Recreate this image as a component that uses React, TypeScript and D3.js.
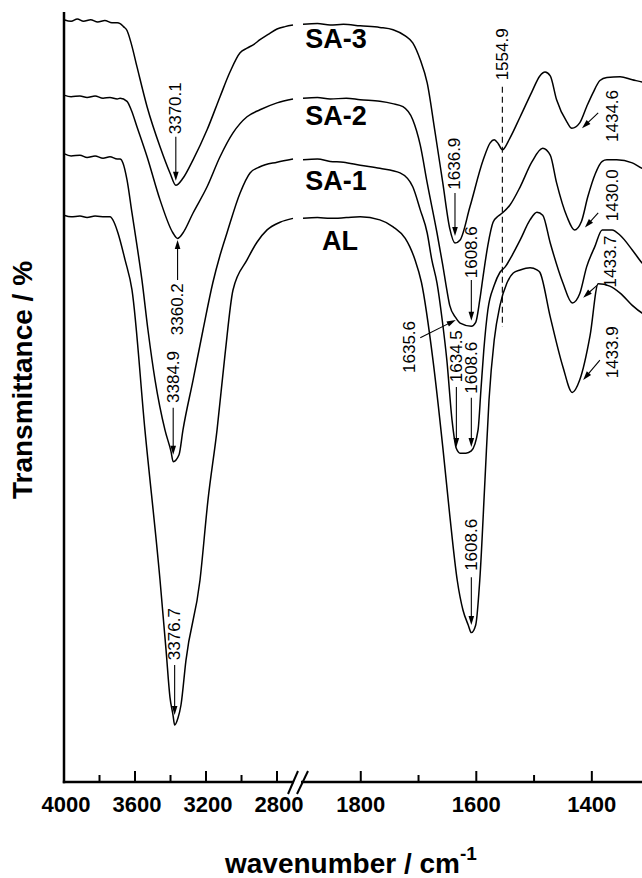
import React from "react";
import * as d3 from "d3";

type P = [number, number];

const W = 642;
const H = 878;

const seriesNames = ["SA-3", "SA-2", "SA-1", "AL"];

// [wavenumber (cm-1), transmittance (offset, %)]
const sa3: P[] = [
  [4000, 99.0], [3960, 98.8], [3925, 99.1], [3890, 98.8], [3850, 99.0], [3810, 98.7], [3770, 98.9],
  [3730, 98.6], [3700, 98.6], [3684, 98.5], [3665, 98.1], [3645, 97.6], [3620, 95.8], [3589, 92.9],
  [3532, 87.7], [3459, 82.5], [3403, 79.1], [3370.1, 77.5], [3330, 78.4], [3273, 80.8], [3194, 84.7],
  [3121, 89.0], [3065, 92.2], [3008, 94.7], [2969, 95.3], [2930, 95.8], [2896, 96.4], [2850, 97.1],
  [2800, 97.8], [2755, 98.1], [2710, 98.3],
  [1900, 98.4], [1875, 98.5], [1853, 98.3], [1830, 98.4], [1801, 98.2], [1767, 98.0], [1744, 97.7],
  [1723, 96.9], [1710, 96.0], [1697, 93.8], [1685, 90.8], [1672, 84.7], [1658, 77.8], [1646, 71.9],
  [1636.9, 70.0], [1628, 70.4], [1611, 74.7], [1588, 80.8], [1576, 83.0], [1569, 83.4], [1562, 82.9],
  [1554.9, 82.1], [1542, 83.6], [1524, 86.4], [1504, 89.6], [1490, 91.7], [1481, 92.2], [1472, 91.7],
  [1461, 88.6], [1443, 85.7], [1434.6, 84.9], [1421, 85.6], [1409, 87.7], [1398, 89.5], [1386, 91.1],
  [1374, 91.5], [1351, 91.6], [1330, 91.2], [1313, 90.9], [1300, 90.6],
];

const sa2: P[] = [
  [4000, 89.2], [3960, 89.0], [3910, 89.1], [3870, 88.9], [3825, 89.1], [3780, 88.8], [3741, 88.9],
  [3700, 88.7], [3684, 88.8], [3645, 88.4], [3620, 87.2], [3589, 85.1], [3532, 81.2], [3459, 75.6],
  [3386, 71.3], [3360.2, 70.6], [3330, 71.3], [3273, 73.9], [3194, 77.3], [3121, 81.2], [3048, 84.3],
  [2969, 86.4], [2896, 87.3], [2800, 88.2], [2710, 88.7],
  [1900, 88.8], [1875, 88.9], [1853, 88.7], [1825, 88.8], [1801, 88.6], [1767, 88.4], [1745, 88.1],
  [1727, 87.7], [1710, 86.0], [1697, 82.7], [1685, 77.8], [1668, 71.3], [1658, 67.1], [1651, 63.9],
  [1646, 61.9], [1635.6, 60.3], [1628, 59.6], [1608.6, 59.2], [1601, 59.7], [1594, 62.6], [1588, 65.8],
  [1580, 69.7], [1571, 72.7], [1562, 73.5], [1554.9, 73.9], [1542, 74.9], [1524, 77.3], [1504, 80.5],
  [1485, 82.3], [1472, 81.4], [1461, 77.8], [1443, 73.4], [1430, 71.7], [1418, 72.8], [1407, 76.0],
  [1394, 79.0], [1382, 80.6], [1374, 80.8], [1357, 80.8], [1330, 80.4], [1313, 79.7], [1300, 79.4],
];

const sa1: P[] = [
  [4000, 81.6], [3960, 81.3], [3910, 81.4], [3870, 81.1], [3825, 81.3], [3780, 81.0], [3741, 81.2],
  [3700, 80.9], [3684, 80.9], [3668, 80.4], [3645, 78.2], [3617, 73.9], [3589, 69.7], [3561, 65.2],
  [3527, 58.7], [3487, 52.2], [3431, 45.7], [3397, 42.9], [3384.9, 41.6], [3352, 42.5], [3330, 45.7],
  [3273, 52.2], [3217, 58.7], [3161, 64.9], [3121, 68.4], [3082, 71.3], [3008, 76.5], [2952, 79.1],
  [2896, 79.9], [2800, 80.5], [2710, 80.9],
  [1900, 80.8], [1875, 80.9], [1853, 80.6], [1830, 80.5], [1801, 80.1], [1767, 79.7], [1732, 79.1],
  [1710, 77.3], [1697, 74.3], [1685, 71.3], [1677, 67.8], [1668, 64.8], [1659, 60.0], [1651, 54.8],
  [1642, 47.0], [1634.5, 43.3], [1628, 42.7], [1618, 42.7], [1608.6, 43.0], [1597, 45.7], [1592, 50.9],
  [1587, 56.1], [1580, 61.3], [1569, 64.5], [1559, 66.2], [1550, 66.9], [1538, 68.4], [1524, 70.4],
  [1507, 73.0], [1495, 74.0], [1485, 73.6], [1472, 70.0], [1450, 64.8], [1433.7, 62.2], [1421, 63.4],
  [1409, 66.9], [1395, 69.5], [1382, 71.7], [1365, 71.7], [1351, 71.0], [1330, 69.1], [1313, 67.4],
  [1300, 66.5],
];

const al: P[] = [
  [4000, 73.6], [3960, 73.4], [3910, 73.5], [3870, 73.3], [3825, 73.5], [3769, 73.4], [3741, 73.4],
  [3718, 72.7], [3696, 71.3], [3656, 67.8], [3617, 63.9], [3544, 45.7], [3459, 26.2], [3425, 17.1],
  [3403, 11.0], [3386, 8.7], [3376.7, 7.4], [3358, 8.3], [3341, 10.0], [3313, 15.8], [3234, 26.2],
  [3189, 36.6], [3138, 45.7], [3093, 55.5], [3048, 63.9], [2969, 67.8], [2913, 70.1], [2856, 71.7],
  [2783, 72.7], [2710, 73.2],
  [1900, 73.2], [1875, 73.3], [1853, 73.2], [1825, 73.3], [1801, 73.4], [1767, 73.0], [1744, 72.1],
  [1723, 70.6], [1715, 69.5], [1706, 67.8], [1695, 64.9], [1675, 54.8], [1658, 43.5], [1646, 34.7],
  [1633, 26.2], [1623, 22.3], [1614, 20.4], [1608.6, 19.4], [1601, 20.4], [1594, 26.2], [1585, 39.2],
  [1578, 49.6], [1569, 57.4], [1559, 61.9], [1547, 64.8], [1536, 66.1], [1524, 66.5], [1507, 66.8],
  [1495, 66.5], [1490, 66.2], [1472, 60.4], [1450, 53.9], [1433.9, 50.6], [1421, 52.2], [1403, 58.0],
  [1389, 64.7], [1369, 64.4], [1351, 63.5], [1330, 61.9], [1313, 60.9], [1300, 60.4],
];

const seriesData: P[][] = [sa3, sa2, sa1, al];
// label baseline level (transmittance units) for each series name
const seriesLabelT = [95.3, 85.3, 76.9, 69.1];

const leftMajor = [4000, 3600, 3200, 2800];
const leftMinor = [3800, 3400, 3000];
const rightMajor = [1800, 1600, 1400];
const rightMinor = [1700, 1500];

// peak annotations: text centre, arrow tail and arrow tip, in (wavenumber, transmittance)
const annLabels = [
  "3370.1", "3360.2", "3384.9", "3376.7", "1636.9", "1608.6", "1635.6", "1634.5", "1608.6",
  "1608.6", "1434.6", "1430.0", "1433.7", "1433.9",
];
const annText: P[] = [
  [3370.1, 87.5], [3360.2, 61.4], [3384.9, 52.6], [3376.7, 19.2], [1636.9, 80.3], [1608.6, 68.8],
  [1715, 56.5], [1634.5, 55.3], [1608.6, 53.8], [1608.6, 30.8], [1365, 86.5], [1365, 76.2],
  [1367, 67.6], [1365, 55.8],
];
const annTail: P[] = [
  [3370.1, 83.8], [3360.2, 65.2], [3384.9, 48.6], [3376.7, 15.2], [1636.9, 76.5], [1608.6, 65.2],
  [1697, 57.7], [1634.5, 51.3], [1608.6, 49.9], [1608.6, 26.6], [1389, 86.9], [1389, 73.9],
  [1391, 64.5], [1386, 54.8],
];
const annTip: P[] = [
  [3370.1, 78.1], [3360.2, 70.4], [3384.9, 42.5], [3376.7, 8.7], [1636.9, 70.9], [1608.6, 59.9],
  [1635.6, 60.0], [1634.5, 43.5], [1608.6, 43.5], [1608.6, 20.4], [1417, 84.9], [1412, 72.0],
  [1415, 62.9], [1415, 52.2],
];

const dashedLabel = "1554.9";
const dashedWn = 1554.9;
const dashedRange: P = [59.1, 90.3];
const dashedTextT = 94.5;

const FONT = "'Liberation Sans', Arial, Helvetica, sans-serif";

function Arrow({ x1, y1, x2, y2 }: { x1: number; y1: number; x2: number; y2: number }) {
  const dx = x2 - x1;
  const dy = y2 - y1;
  const len = Math.hypot(dx, dy) || 1;
  const ux = dx / len;
  const uy = dy / len;
  const hl = 9;
  const hw = 2.8;
  const bx = x2 - ux * hl;
  const by = y2 - uy * hl;
  const px = -uy * hw;
  const py = ux * hw;
  return (
    <g>
      <line x1={x1} y1={y1} x2={bx + ux * 2} y2={by + uy * 2} stroke="#000" strokeWidth={1.1} />
      <path d={`M${x2},${y2}L${bx + px},${by + py}L${bx - px},${by - py}Z`} fill="#000" />
    </g>
  );
}

export default function App() {
  const axisY = 782;
  const xL = d3.scaleLinear().domain([4000, 2710]).range([64, 293]);
  const xR = d3.scaleLinear().domain([1900, 1300]).range([303, 649.6]);
  const y = d3.scaleLinear().domain([0, 100]).range([axisY, 12]);
  const xOf = (wn: number) => (wn > 2000 ? xL(wn) : xR(wn));

  const line = d3
    .line<P>()
    .x((d) => xOf(d[0]))
    .y((d) => y(d[1]))
    .curve(d3.curveMonotoneX);

  return (
    <svg
      width={W}
      height={H}
      viewBox={`0 0 ${W} ${H}`}
      style={{ position: "absolute", left: 0, top: 0, background: "#fff" }}
      fontFamily={FONT}
    >
      <rect width={W} height={H} fill="#fff" />
      {/* spectra */}
      {seriesData.map((s, i) => (
        <g key={seriesNames[i]}>
          <path d={line(s.filter((d) => d[0] > 2000)) || ""} fill="none" stroke="#000" strokeWidth={1.5} />
          <path d={line(s.filter((d) => d[0] < 2000)) || ""} fill="none" stroke="#000" strokeWidth={1.5} />
        </g>
      ))}
      {/* series labels */}
      {seriesNames.map((n, i) => (
        <text
          key={n}
          x={n === "AL" ? 340 : 336}
          y={y(seriesLabelT[i])}
          textAnchor="middle"
          fontSize={27}
          fontWeight="bold"
        >
          {n}
        </text>
      ))}
      {/* dashed reference line */}
      <line
        x1={xR(dashedWn)}
        x2={xR(dashedWn)}
        y1={y(dashedRange[1])}
        y2={y(dashedRange[0])}
        stroke="#000"
        strokeWidth={1.1}
        strokeDasharray="6,4"
      />
      <text
        transform={`translate(${xR(dashedWn) + 0.5},${y(dashedTextT)}) rotate(-90)`}
        textAnchor="middle"
        dominantBaseline="central"
        fontSize={17}
      >
        {dashedLabel}
      </text>
      {/* annotations */}
      {annLabels.map((lab, i) => {
        const tx = xOf(annText[i][0]);
        const ty = y(annText[i][1]);
        return (
          <g key={i}>
            <Arrow x1={xOf(annTail[i][0])} y1={y(annTail[i][1])} x2={xOf(annTip[i][0])} y2={y(annTip[i][1])} />
            <text
              transform={`translate(${tx},${ty}) rotate(-90)`}
              textAnchor="middle"
              dominantBaseline="central"
              fontSize={17}
            >
              {lab}
            </text>
          </g>
        );
      })}
      {/* axes */}
      <line x1={64} x2={64} y1={12} y2={axisY + 1.2} stroke="#000" strokeWidth={2.5} />
      <line x1={62.8} x2={xL(2710) + 1} y1={axisY} y2={axisY} stroke="#000" strokeWidth={2.5} />
      <line x1={xR(1900) - 2} x2={W + 10} y1={axisY} y2={axisY} stroke="#000" strokeWidth={2.5} />
      <line x1={288} y1={794} x2={298} y2={771} stroke="#000" strokeWidth={2} />
      <line x1={297} y1={794} x2={308} y2={771} stroke="#000" strokeWidth={2} />
      {leftMajor.map((t) => (
        <line key={"lM" + t} x1={xL(t)} x2={xL(t)} y1={axisY} y2={axisY - 11} stroke="#000" strokeWidth={2} />
      ))}
      {leftMinor.map((t) => (
        <line key={"lm" + t} x1={xL(t)} x2={xL(t)} y1={axisY} y2={axisY - 7} stroke="#000" strokeWidth={2} />
      ))}
      {rightMajor.map((t) => (
        <line key={"rM" + t} x1={xR(t)} x2={xR(t)} y1={axisY} y2={axisY - 11} stroke="#000" strokeWidth={2} />
      ))}
      {rightMinor.map((t) => (
        <line key={"rm" + t} x1={xR(t)} x2={xR(t)} y1={axisY} y2={axisY - 7} stroke="#000" strokeWidth={2} />
      ))}
      {leftMajor.map((t) => (
        <text key={"lt" + t} x={xL(t) + 2} y={812} textAnchor="middle" fontSize={22} fontWeight="bold">
          {t}
        </text>
      ))}
      {rightMajor.map((t) => (
        <text key={"rt" + t} x={xR(t)} y={812} textAnchor="middle" fontSize={22} fontWeight="bold">
          {t}
        </text>
      ))}
      {/* axis titles */}
      <text x={225} y={873} fontSize={28} fontWeight="bold">
        wavenumber / cm
        <tspan fontSize={19} dy={-13}>
          -1
        </tspan>
      </text>
      <text transform={`translate(32,380) rotate(-90)`} textAnchor="middle" fontSize={28} fontWeight="bold">
        Transmittance / %
      </text>
    </svg>
  );
}
